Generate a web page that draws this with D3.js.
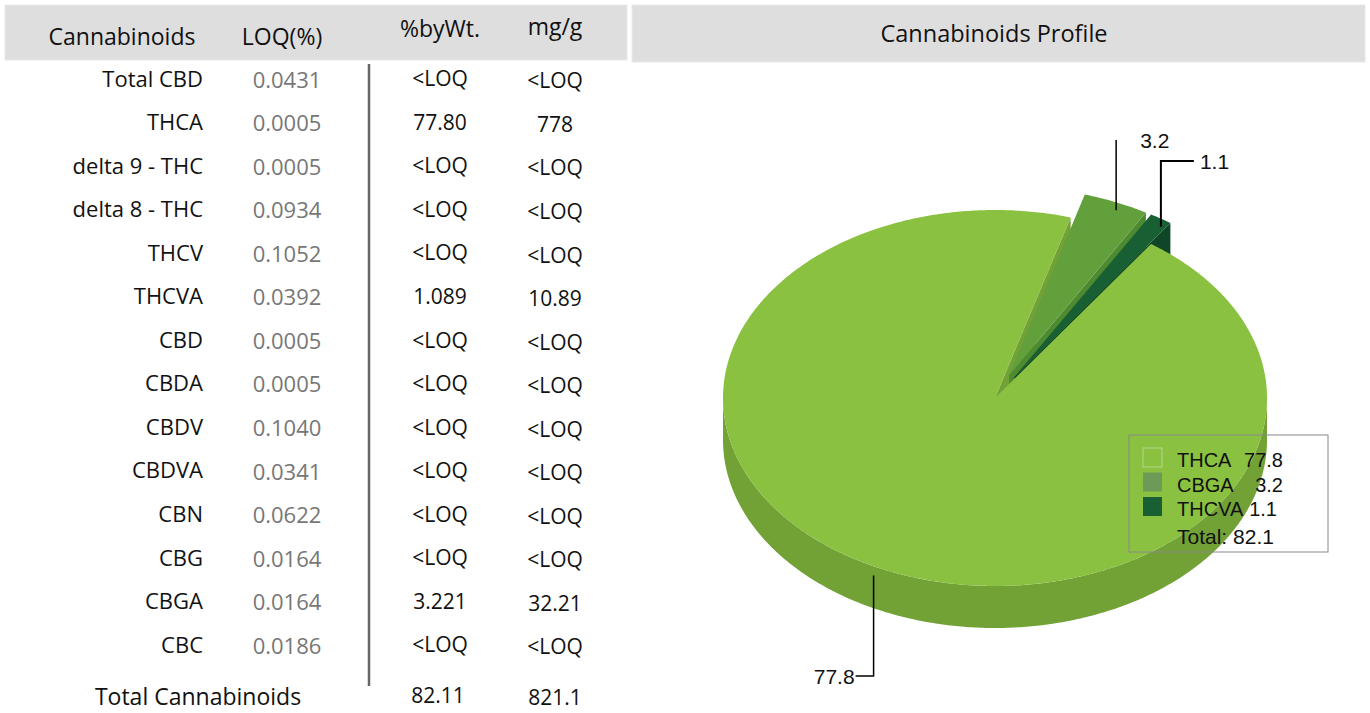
<!DOCTYPE html>
<html>
<head>
<meta charset="utf-8">
<script src="https://d3js.org/d3.v7.min.js"></script>
<style>
  body { margin: 0; background: #fff; }
  .tbl { font-family: "Open Sans", sans-serif; font-size: 22px; fill: #111; }
  .head { font-size: 23px; }
  .val { font-size: 21px; }
  .loq { fill: #777; font-size: 22px; }
  .pie-txt { font-family: "Liberation Sans", Arial, sans-serif; font-size: 20px; fill: #111; }
</style>
</head>
<body>
<div id="chart"></div>
<script>
// table data
var names = ["Total CBD", "THCA", "delta 9 - THC", "delta 8 - THC", "THCV", "THCVA", "CBD",
             "CBDA", "CBDV", "CBDVA", "CBN", "CBG", "CBGA", "CBC"];
var loq = ["0.0431", "0.0005", "0.0005", "0.0934", "0.1052", "0.0392", "0.0005",
           "0.0005", "0.1040", "0.0341", "0.0622", "0.0164", "0.0164", "0.0186"];
var pctWt = ["<LOQ", "77.80", "<LOQ", "<LOQ", "<LOQ", "1.089", "<LOQ",
             "<LOQ", "<LOQ", "<LOQ", "<LOQ", "<LOQ", "3.221", "<LOQ"];
var mgG = ["<LOQ", "778", "<LOQ", "<LOQ", "<LOQ", "10.89", "<LOQ",
           "<LOQ", "<LOQ", "<LOQ", "<LOQ", "<LOQ", "32.21", "<LOQ"];
var totals = ["Total Cannabinoids", "82.11", "821.1"];

// pie data
var pieLabels = ["THCA", "CBGA", "THCVA"];
var pieValues = [77.8, 3.2, 1.1];
var pieTotal = "Total: 82.1";
var pieColors = ["#8bc140", "#62a03c", "#195f34"];
var sideColors = ["#72a136", "#4e8a30", "#0e4627"];

var width = 1370, height = 713;
var svg = d3.select("#chart").append("svg")
  .attr("width", width).attr("height", height);

// ---------- header bands ----------
svg.append("rect").attr("x", 5).attr("y", 5).attr("width", 622).attr("height", 55)
  .attr("fill", "#dedede").attr("stroke", "#e9e9e9");
svg.append("rect").attr("x", 632).attr("y", 5).attr("width", 733).attr("height", 57)
  .attr("fill", "#dedede").attr("stroke", "#e9e9e9");

var heads = [["Cannabinoids", 122, 45], ["LOQ(%)", 282, 45], ["%byWt.", 440, 37], ["mg/g", 555, 35]];
svg.selectAll(".head").data(heads).enter().append("text")
  .attr("class", "tbl head")
  .attr("x", function(d) { return d[1]; })
  .attr("y", function(d) { return d[2]; })
  .attr("text-anchor", "middle")
  .text(function(d) { return d[0]; });

svg.append("text").attr("class", "tbl head").style("font-size", "23.5px")
  .attr("x", 994).attr("y", 42).attr("text-anchor", "middle")
  .text("Cannabinoids Profile");

// ---------- table ----------
var y = d3.scalePoint().domain(d3.range(names.length)).range([80, 646]);

var rows = svg.selectAll(".row").data(names).enter().append("g")
  .attr("transform", function(d, i) { return "translate(0," + y(i) + ")"; });

rows.append("text").attr("class", "tbl")
  .attr("x", 203).attr("dy", "0.3em").attr("text-anchor", "end")
  .text(function(d) { return d; });
rows.append("text").attr("class", "tbl loq")
  .attr("x", 287).attr("dy", "0.35em").attr("text-anchor", "middle")
  .text(function(d, i) { return loq[i]; });
rows.append("text").attr("class", "tbl val")
  .attr("x", 440).attr("dy", "0.3em").attr("text-anchor", "middle")
  .text(function(d, i) { return pctWt[i]; });
rows.append("text").attr("class", "tbl val")
  .attr("x", 555).attr("dy", "0.4em").attr("text-anchor", "middle")
  .text(function(d, i) { return mgG[i]; });

svg.append("line").attr("x1", 369).attr("x2", 369).attr("y1", 64).attr("y2", 686)
  .attr("stroke", "#666").attr("stroke-width", 2.5);

svg.append("text").attr("class", "tbl head").attr("x", 198).attr("y", 705)
  .attr("text-anchor", "middle").text(totals[0]);
svg.append("text").attr("class", "tbl val").attr("x", 438).attr("y", 703)
  .attr("text-anchor", "middle").text(totals[1]);
svg.append("text").attr("class", "tbl val").attr("x", 555).attr("y", 705)
  .attr("text-anchor", "middle").text(totals[2]);

// ---------- 3D pie ----------
var cx = 995, cy = 398, rx = 272, ry = 188, depth = 42, explode = 36;
var start = 35 * Math.PI / 180;
var arcs = d3.pie().sort(null).startAngle(start).endAngle(start + 2 * Math.PI)(pieValues);

function off(d, i) {
  if (i === 0) return [0, 0];
  var m = (d.startAngle + d.endAngle) / 2;
  return [explode * Math.sin(m), -explode * Math.cos(m) * ry / rx];
}
function rim(a, o, dz) {
  return [cx + o[0] + rx * Math.sin(a), cy + o[1] - ry * Math.cos(a) + (dz || 0)];
}
function arcPts(a0, a1, o, dz) {
  var n = Math.max(2, Math.ceil((a1 - a0) / 0.01)), pts = [];
  for (var k = 0; k <= n; k++) pts.push(rim(a0 + (a1 - a0) * k / n, o, dz));
  return pts;
}
var line = d3.line();

var walls = svg.append("g"), tops = svg.append("g");

arcs.forEach(function(d, i) {
  var o = off(d, i), apex = [cx + o[0], cy + o[1]];
  var apexB = [apex[0], apex[1] + depth];
  // radial faces that turn toward the viewer
  [[d.endAngle, 1], [d.startAngle, -1]].forEach(function(f) {
    if (f[1] * Math.sin(f[0]) > 0) {
      var p = rim(f[0], o), pb = rim(f[0], o, depth);
      walls.append("path").attr("d", line([apex, p, pb, apexB]) + "Z")
        .attr("fill", sideColors[i]);
    }
  });
  // outer wall on the front half
  [0, 2 * Math.PI].forEach(function(shift) {
    var lo = Math.max(d.startAngle, Math.PI / 2 + shift);
    var hi = Math.min(d.endAngle, 3 * Math.PI / 2 + shift);
    if (hi > lo) {
      var pts = arcPts(lo, hi, o, 0).concat(arcPts(lo, hi, o, depth).reverse());
      walls.append("path").attr("d", line(pts) + "Z").attr("fill", sideColors[i]);
    }
  });
});

// tops: small slices first, main slice last
[1, 2, 0].forEach(function(i) {
  var d = arcs[i], o = off(d, i);
  var pts = [[cx + o[0], cy + o[1]]].concat(arcPts(d.startAngle, d.endAngle, o, 0));
  tops.append("path").attr("d", line(pts) + "Z").attr("fill", pieColors[i]);
});

// leader lines + labels
var lab = svg.append("g");
function mid(i) { return (arcs[i].startAngle + arcs[i].endAngle) / 2; }

var p0 = rim(mid(0), off(arcs[0], 0), 8);
lab.append("path").attr("d", line([[p0[0] - 4, p0[1]], [p0[0] - 4, 676], [p0[0] - 22, 676]]))
  .attr("fill", "none").attr("stroke", "#000").attr("stroke-width", 1.5);
lab.append("text").attr("class", "pie-txt").style("font-size", "21px")
  .attr("x", p0[0] - 23).attr("y", 684)
  .attr("text-anchor", "end").text(pieValues[0].toFixed(1));

var p1 = rim(mid(1), off(arcs[1], 1));
lab.append("path").attr("d", line([[p1[0], p1[1] + 8], [p1[0], 140]]))
  .attr("fill", "none").attr("stroke", "#000").attr("stroke-width", 1.5);
lab.append("text").attr("class", "pie-txt").style("font-size", "21px")
  .attr("x", p1[0] + 24).attr("y", 148)
  .text(pieValues[1].toFixed(1));

var p2 = rim(mid(2), off(arcs[2], 2));
lab.append("path").attr("d", line([[p2[0], p2[1] + 8], [p2[0], 161], [p2[0] + 33, 161]]))
  .attr("fill", "none").attr("stroke", "#000").attr("stroke-width", 2);
lab.append("text").attr("class", "pie-txt").style("font-size", "21px")
  .attr("x", p2[0] + 39).attr("y", 169)
  .text(pieValues[2].toFixed(1));

// legend
var leg = svg.append("g");
leg.append("rect").attr("x", 1129).attr("y", 435).attr("width", 199).attr("height", 117)
  .attr("fill", "none").attr("stroke", "#888").attr("stroke-width", 1);
var ly = d3.scalePoint().domain(pieLabels).range([467, 516]);
pieLabels.forEach(function(name, i) {
  leg.append("rect").attr("x", 1143).attr("y", ly(name) - 19).attr("width", 19).attr("height", 19)
    .attr("fill", i === 0 ? "none" : (i === 1 ? "#6e9a58" : pieColors[2]))
    .attr("stroke", i === 0 ? "#b6d58c" : "none");
  leg.append("text").attr("class", "pie-txt").attr("x", 1177).attr("y", ly(name)).text(name);
  leg.append("text").attr("class", "pie-txt").attr("x", i === 2 ? 1277 : 1283).attr("y", ly(name))
    .attr("text-anchor", "end").text(pieValues[i].toFixed(1));
});
leg.append("text").attr("class", "pie-txt").style("font-size", "21px")
  .attr("x", 1177).attr("y", 544).text(pieTotal);
</script>
</body>
</html>
